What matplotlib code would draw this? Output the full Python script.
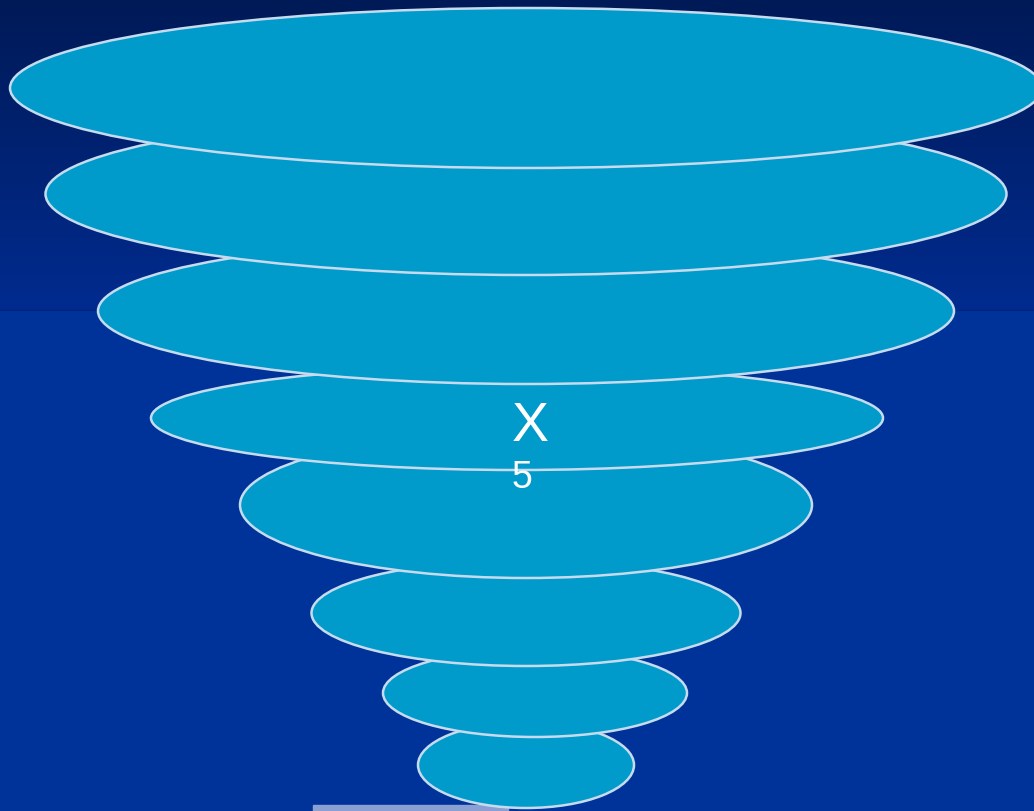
import numpy as np
import matplotlib
matplotlib.use('Agg')
import matplotlib.pyplot as plt
from matplotlib.patches import Ellipse

# Ellipse layers, top to bottom (pixel units)
layer_cx = [526, 526, 526, 517, 526, 526, 535, 526]
layer_cy = [88, 194, 311, 418, 505, 613, 693, 765]
layer_w = [1032, 961, 856, 732, 572, 429, 304, 216]
layer_h = [160, 162, 146, 104, 146, 106, 88, 86]

label_main = 'X'
label_sub = '5'

W, H = 1034, 811
fig = plt.figure(figsize=(W / 100, H / 100), dpi=100)
ax = fig.add_axes([0, 0, 1, 1])
ax.set_xlim(0, W)
ax.set_ylim(H, 0)
ax.axis('off')

# background: gradient at top, flat blue below
top = np.array([0, 26, 87]) / 255
mid = np.array([0, 43, 143]) / 255
low = np.array([0, 51, 153]) / 255
rows = np.zeros((H, 1, 3))
split = 310
for i in range(H):
    if i < split:
        t = i / split
        rows[i, 0] = top * (1 - t) + mid * t
    else:
        rows[i, 0] = low
ax.imshow(rows, extent=[0, W, H, 0], aspect='auto', zorder=0)
ax.axhline(split, color='#00267a', lw=1, zorder=1)

# light bar at the bottom
ax.add_patch(plt.Rectangle((313, 805), 195, 6, color='#8aa0d2', zorder=1))

n = len(layer_cx)
for i in range(n):
    e = Ellipse((layer_cx[i], layer_cy[i]), layer_w[i], layer_h[i],
                facecolor='#009acb', edgecolor='#c6dcee', lw=1.8,
                zorder=10 + n - i)
    ax.add_patch(e)

ax.text(530, 427, label_main, color='white', fontsize=40,
        family='Liberation Sans', ha='center', va='center', zorder=30)
ax.text(522, 478, label_sub, color='white', fontsize=27,
        family='Liberation Sans', ha='center', va='center', zorder=30)

fig.savefig('out.png', dpi=100)
